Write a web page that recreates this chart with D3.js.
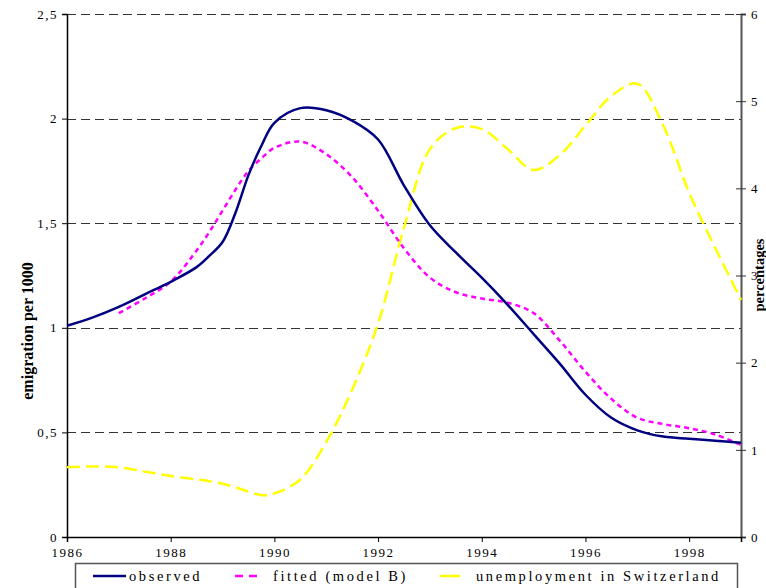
<!DOCTYPE html>
<html>
<head>
<meta charset="UTF-8">
<title>Emigration and unemployment</title>
<script src="https://cdnjs.cloudflare.com/ajax/libs/d3/7.8.5/d3.min.js"></script>
<style>
  body { margin: 0; background: #fff; }
  svg { display: block; font-family: "Liberation Serif", "DejaVu Serif", serif; }
</style>
</head>
<body>
<svg id="chart" width="766" height="588"></svg>
<script>
// sample points (half years, with extra points where the curves bend fast)
const years = [1986, 1986.5, 1987, 1987.5, 1988, 1988.5, 1988.75, 1989, 1989.25, 1989.5, 1989.75,
  1990, 1990.5, 1991, 1991.5, 1992, 1992.5, 1993, 1993.5, 1994, 1994.5, 1995, 1995.5,
  1996, 1996.5, 1997, 1997.5, 1998, 1998.5, 1999];
const observed = [1.01, 1.05, 1.10, 1.16, 1.22, 1.29, 1.345, 1.41, 1.55, 1.73, 1.87,
  1.98, 2.05, 2.04, 1.99, 1.90, 1.68, 1.49, 1.36, 1.24, 1.11, 0.97, 0.83,
  0.68, 0.57, 0.51, 0.48, 0.47, 0.46, 0.45];
const fitted = [null, null, 1.07, 1.14, 1.22, 1.37, 1.46, 1.56, 1.66, 1.75, 1.81,
  1.86, 1.89, 1.83, 1.72, 1.56, 1.38, 1.24, 1.17, 1.14, 1.12, 1.07, 0.94,
  0.79, 0.66, 0.57, 0.54, 0.52, 0.49, 0.44];
const unemployment = [0.80, 0.81, 0.80, 0.75, 0.70, 0.66, 0.64, 0.61, 0.57, 0.52, 0.48,
  0.50, 0.66, 1.09, 1.69, 2.45, 3.55, 4.45, 4.69, 4.68, 4.45, 4.21, 4.38,
  4.72, 5.06, 5.20, 4.72, 3.95, 3.32, 2.72];

const xTicks = [1986, 1988, 1990, 1992, 1994, 1996, 1998];
const leftTicks = [0, 0.5, 1, 1.5, 2, 2.5];
const rightTicks = [0, 1, 2, 3, 4, 5, 6];
const fmt = d3.format(",.1~f");
const comma = v => fmt(v).replace(".", ",");

const svg = d3.select("#chart");
const m = {left: 67, right: 741, top: 14, bottom: 537};

const x = d3.scaleLinear().domain([1986, 1999]).range([m.left, m.right]);
const yL = d3.scaleLinear().domain([0, 2.5]).range([m.bottom, m.top]);
const yR = d3.scaleLinear().domain([0, 6]).range([m.bottom, m.top]);

// gridlines
svg.append("g").selectAll("line")
  .data(leftTicks.filter(d => d > 0))
  .enter().append("line")
  .attr("x1", m.left).attr("x2", m.right)
  .attr("y1", d => Math.round(yL(d)) + 0.5).attr("y2", d => Math.round(yL(d)) + 0.5)
  .attr("stroke", "#333").attr("stroke-dasharray", "9,5");

// axes
const axisStyle = g => {
  g.selectAll("text").attr("font-size", 13).attr("fill", "#000")
    .attr("font-family", "Liberation Serif, serif").style("letter-spacing", "1.5px");
};

svg.append("g")
  .attr("transform", `translate(${m.left},0)`)
  .call(d3.axisLeft(yL).tickValues(leftTicks).tickFormat(comma).tickSizeOuter(0).tickSize(5).tickPadding(4))
  .call(axisStyle)
  .call(g => g.select(".domain").attr("stroke-width", 1.5));

svg.append("g")
  .attr("transform", `translate(${m.right},0)`)
  .call(d3.axisRight(yR).tickValues(rightTicks).tickFormat(d3.format("d"))
    .tickSizeOuter(0).tickSize(5).tickPadding(5))
  .call(axisStyle)
  .call(g => g.select(".domain").attr("stroke", "#555").attr("stroke-width", 2))
  .call(g => g.selectAll(".tick line").attr("x1", -5).attr("stroke", "#333"));

svg.append("g")
  .attr("transform", `translate(0,${m.bottom})`)
  .call(d3.axisBottom(x).tickValues(xTicks.concat([1999])).tickFormat(d => d === 1999 ? "" : d)
    .tickSizeOuter(0).tickSize(5).tickPadding(6))
  .call(axisStyle)
  .call(g => g.select(".domain").attr("stroke-width", 1.5));

// axis titles
svg.append("text")
  .attr("transform", "translate(33,331) rotate(-90)")
  .attr("text-anchor", "middle")
  .attr("font-size", 16).attr("font-weight", "bold")
  .text("emigration per 1000");

svg.append("text")
  .attr("transform", "translate(764,275) rotate(-90)")
  .attr("text-anchor", "middle")
  .attr("font-size", 14.5).attr("font-weight", "bold")
  .text("percentages");

// series
const lineL = d3.line()
  .defined(d => d[1] != null)
  .x(d => x(d[0])).y(d => yL(d[1]))
  .curve(d3.curveCatmullRom.alpha(0.5));
const lineR = d3.line()
  .x(d => x(d[0])).y(d => yR(d[1]))
  .curve(d3.curveCatmullRom.alpha(0.5));

svg.append("path")
  .datum(years.map((yr, i) => [yr, unemployment[i]]))
  .attr("fill", "none").attr("stroke", "#ffff00").attr("stroke-width", 2.5)
  .attr("stroke-dasharray", "13,6")
  .attr("d", lineR);

svg.append("path")
  .datum(years.map((yr, i) => [yr, fitted[i]]))
  .attr("fill", "none").attr("stroke", "#ff00ff").attr("stroke-width", 2.5)
  .attr("stroke-dasharray", "5,4")
  .attr("d", lineL);

svg.append("path")
  .datum(years.map((yr, i) => [yr, observed[i]]))
  .attr("fill", "none").attr("stroke", "#000080").attr("stroke-width", 2.5)
  .attr("d", lineL);

// legend
const leg = svg.append("g");
leg.append("rect")
  .attr("x", 75.5).attr("y", 563.5).attr("width", 662).attr("height", 40)
  .attr("fill", "#fff").attr("stroke", "#555").attr("stroke-width", 1.5);

const legendItems = [
  {label: "observed", color: "#000080", dash: null, x0: 93, x1: 126, tx: 129},
  {label: "fitted (model B)", color: "#ff00ff", dash: "8,6", x0: 235, x1: 259, tx: 273},
  {label: "unemployment in Switzerland", color: "#ffff00", dash: null, x0: 440, x1: 460, tx: 476}
];
legendItems.forEach(it => {
  leg.append("line")
    .attr("x1", it.x0).attr("x2", it.x1).attr("y1", 576).attr("y2", 576)
    .attr("stroke", it.color).attr("stroke-width", 2.5)
    .attr("stroke-dasharray", it.dash);
  leg.append("text")
    .attr("x", it.tx).attr("y", 581)
    .attr("font-size", 14.5).style("letter-spacing", "2.6px")
    .text(it.label);
});
</script>
</body>
</html>
